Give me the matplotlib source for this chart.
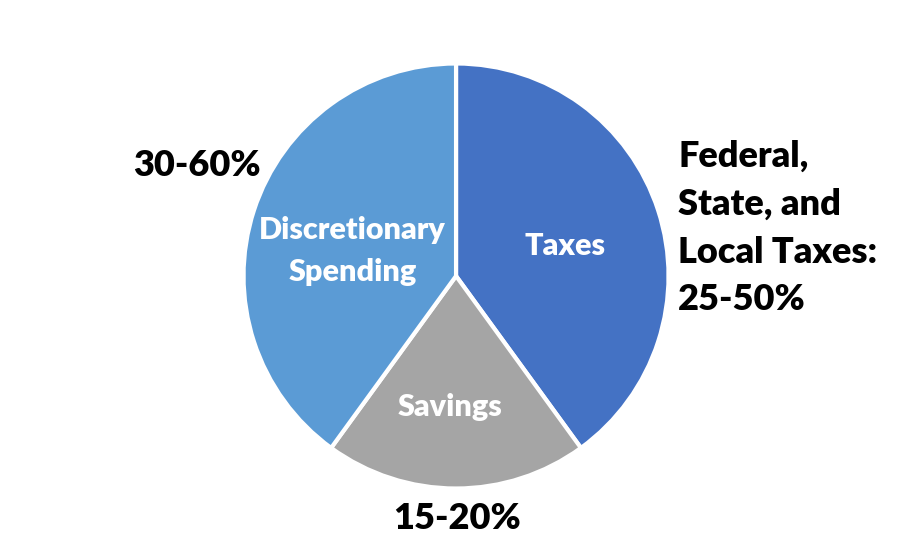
import matplotlib
matplotlib.use('Agg')
import matplotlib.pyplot as plt

# slice data (shares)
categories = ['Taxes', 'Savings', 'Discretionary\nSpending']
shares = [40, 20, 40]
ranges = ['Federal,\nState, and\nLocal Taxes:\n25-50%', '15-20%', '30-60%']
colors = ['#4472C4', '#A5A5A5', '#5B9BD5']

plt.rcParams['font.family'] = ['Lato', 'DejaVu Sans']

fig = plt.figure(figsize=(9.01, 5.52), dpi=100)
ax = fig.add_axes([0.2703, 0.115, 0.4717, 0.77])

# pie drawn clockwise from 12 o'clock
ax.pie(shares, colors=colors, startangle=90, counterclock=False,
       radius=1, wedgeprops=dict(edgecolor='white', linewidth=3))
ax.set_xlim(-1, 1)
ax.set_ylim(-1, 1)
ax.set_aspect('equal')
ax.axis('off')

# labels inside the slices
inner_pos = [(0.513, 0.14), (-0.03, -0.615), (-0.487, 0.118)]
for name, (x, y) in zip(categories, inner_pos):
    ax.text(x, y, name, color='white', fontsize=22, fontweight='heavy',
            ha='center', va='center', linespacing=1.6)

# range labels outside the pie
ax.text(1.045, 0.225, ranges[0], color='black', fontsize=26, fontweight='heavy',
        ha='left', va='center', linespacing=1.55)
ax.text(0.005, -1.14, ranges[1], color='black', fontsize=26, fontweight='heavy',
        ha='center', va='center')
ax.text(-1.22, 0.52, ranges[2], color='black', fontsize=26, fontweight='heavy',
        ha='center', va='center')

fig.savefig('out.png', dpi=100)
